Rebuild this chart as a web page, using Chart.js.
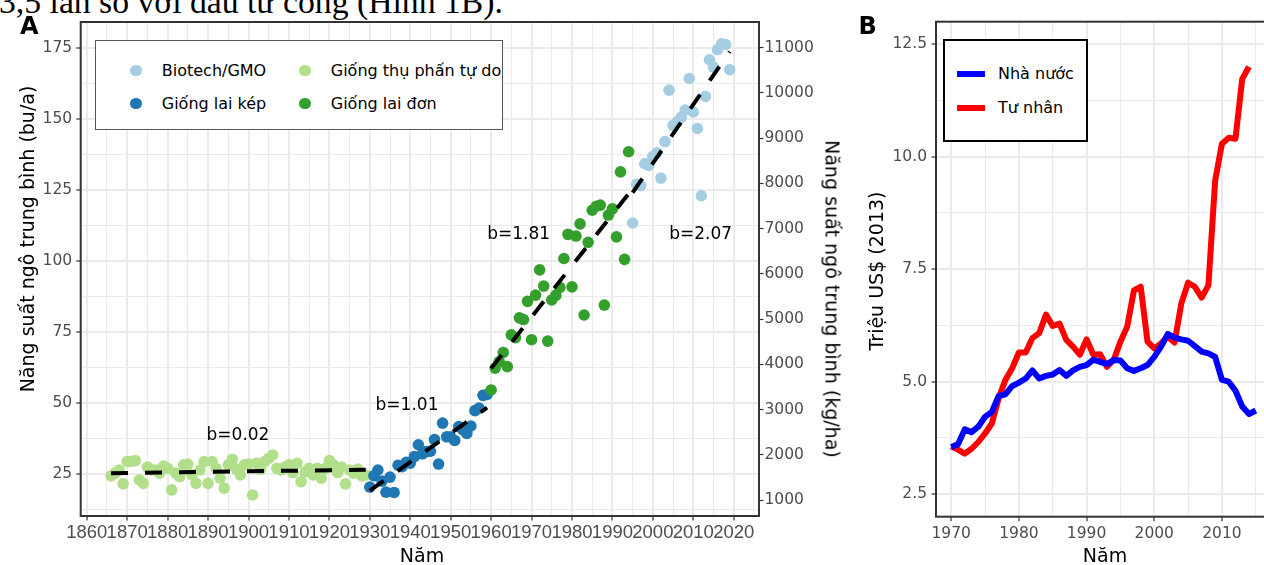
<!DOCTYPE html>
<html lang="vi">
<head>
<meta charset="utf-8">
<title>Năng suất ngô và đầu tư nghiên cứu</title>
<script src="https://cdn.jsdelivr.net/npm/chart.js@4.4.1/dist/chart.umd.min.js"></script>
<style>
  html, body { margin:0; padding:0; width:1264px; height:565px; overflow:hidden; background:#fff; }
  body { position:relative; font-family:'DejaVu Sans', sans-serif; color:#000; }
  canvas { position:absolute; top:0; }
  #chartA { left:0; }
  #chartB { left:850px; }
  .txt { position:absolute; white-space:nowrap; line-height:1; }
  .header { left:-1px; top:-15.5px; font-family:'Liberation Serif','Times New Roman',serif; font-size:33.7px; }
  .tag { font-weight:bold; font-size:24px; }
  .axt { font-size:19px; transform:translate(-50%,-50%); }
  .rotl { transform:translate(-50%,-50%) rotate(-90deg); }
  .rotr { transform:translate(-50%,-50%) rotate(90deg); }
  .legA { position:absolute; left:95px; top:40px; width:408px; height:90px; box-sizing:border-box; border:1px solid #555; background:#fff; }
  .legB { position:absolute; left:943px; top:39px; width:145px; height:103px; box-sizing:border-box; border:2px solid #000; background:#fff; }
  .item { position:absolute; white-space:nowrap; font-size:16px; line-height:1; display:flex; align-items:center; height:16px; }
  .dot { display:inline-block; width:11.5px; height:11.5px; border-radius:50%; margin-right:20px; }
  .sw { display:inline-block; width:28px; height:6px; margin-right:13px; }
</style>
</head>
<body>
<div class="txt header">3,5 lần so với đầu tư công (Hình 1B).</div>

<canvas id="chartA" width="850" height="565"></canvas>
<canvas id="chartB" width="440" height="565"></canvas>

<div class="txt tag" style="left:20px; top:13.6px;">A</div>
<div class="txt tag" style="left:858.5px; top:14.2px;">B</div>

<div class="txt axt rotl" style="left:26.7px; top:239px;">Năng suất ngô trung bình (bu/a)</div>
<div class="txt axt rotr" style="left:832px; top:299px;">Năng suất ngô trung bình (kg/ha)</div>
<div class="txt axt" style="left:422px; top:555px;">Năm</div>
<div class="txt axt rotl" style="left:876px; top:271px;">Triệu US$ (2013)</div>
<div class="txt axt" style="left:1105px; top:555.4px;">Năm</div>

<div class="legA" id="legendA"></div>
<div class="legB" id="legendB"></div>

<script>
// ---------------- Panel A data ----------------
const yearsOP = [1866,1867,1868,1869,1870,1871,1872,1873,1874,1875,1876,1877,1878,1879,1880,1881,1882,1883,1884,1885,1886,1887,1888,1889,1890,1891,1892,1893,1894,1895,1896,1897,1898,1899,1900,1901,1902,1903,1904,1905,1906,1907,1908,1909,1910,1911,1912,1913,1914,1915,1916,1917,1918,1919,1920,1921,1922,1923,1924,1925,1926,1927,1928,1929];
const yieldOP = [24.4,25.4,26.5,21.6,29.5,29.5,29.8,23.0,21.8,27.5,26.5,26.5,25.4,27.9,27.1,19.5,25.4,24.2,28.3,28.6,24.8,21.8,26.5,29.5,21.8,29.5,27.0,23.6,20.1,28.3,30.3,26.8,24.8,28.3,28.6,17.7,28.9,26.8,29.5,30.6,31.8,27.1,26.5,27.5,28.3,25.6,28.9,22.4,25.9,27.1,24.8,27.1,23.6,27.1,29.8,28.3,25.6,27.5,21.6,26.5,25.4,26.8,24.4,24.8];

const yearsDC = [1930,1931,1932,1933,1934,1935,1936,1937,1938,1939,1940,1941,1942,1943,1944,1945,1946,1947,1948,1949,1950,1951,1952,1953,1954,1955,1956,1957,1958,1959];
const yieldDC = [20.5,24.5,26.5,22.6,18.7,24.0,18.6,28.2,27.7,29.2,28.9,31.2,35.4,32.2,33.0,33.1,37.2,28.6,43.0,38.2,38.2,36.9,41.8,40.7,39.4,42.0,47.4,48.3,52.8,53.1];

const yearsSC = [1960,1961,1962,1963,1964,1965,1966,1967,1968,1969,1970,1971,1972,1973,1974,1975,1976,1977,1978,1979,1980,1981,1982,1983,1984,1985,1986,1987,1988,1989,1990,1991,1992,1993,1994];
const yieldSC = [54.7,62.4,64.7,67.9,62.9,74.1,73.1,80.1,79.5,85.9,72.4,88.1,97.0,91.3,71.9,86.4,88.0,90.8,101.0,109.5,91.0,108.9,113.2,81.1,106.7,118.0,119.4,119.8,84.6,116.3,118.5,108.6,131.5,100.7,138.6];

const yearsGMO = [1995,1996,1997,1998,1999,2000,2001,2002,2003,2004,2005,2006,2007,2008,2009,2010,2011,2012,2013,2014,2015,2016,2017,2018,2019];
const yieldGMO = [113.5,127.1,126.7,134.4,133.8,136.9,138.2,129.3,142.2,160.3,147.9,149.1,150.7,153.3,164.4,152.6,146.8,123.1,158.1,171.0,168.4,174.6,176.6,176.4,167.5];

const groupNames = ['Biotech/GMO', 'Giống lai kép', 'Giống thụ phấn tự do', 'Giống lai đơn'];
const groupColors = ['#a6cee3', '#1f78b4', '#b2df8a', '#33a02c'];

// fitted trend segments (start / end)
const trendYearsOP = [1866, 1929];  const trendOP = [25.4, 26.6];
const trendYearsDC = [1930, 1959];  const trendDC = [19.2, 48.5];
const trendYearsSC = [1960, 1994];  const trendSC = [62.3, 123.8];
const trendYearsGMO = [1995, 2019]; const trendGMO = [124.2, 173.9];

const slopeLabels = ['b=0.02', 'b=1.01', 'b=1.81', 'b=2.07'];
const slopeLabelYears = [1897.4, 1939.2, 1966.8, 2011.8];
const slopeLabelYields = [38.7, 49.2, 109.4, 109.3];

const yearTicksA = [1860,1870,1880,1890,1900,1910,1920,1930,1940,1950,1960,1970,1980,1990,2000,2010,2020];
const yearTickLabelsA = ['1860','1870','1880','1890','1900','1910','1920','1930','1940','1950','1960','1970','1980','1990','2000','2010','2020'];
const yearMinorA = [1865,1875,1885,1895,1905,1915,1925,1935,1945,1955,1965,1975,1985,1995,2005,2015,2025];
const yieldTicks = [25,50,75,100,125,150,175];
const yieldTickLabels = ['25','50','75','100','125','150','175'];
const yieldMinor = [12.5,37.5,62.5,87.5,112.5,137.5,162.5];
const kgTicks = [1000,2000,3000,4000,5000,6000,7000,8000,9000,10000,11000];
const kgTickLabels = ['1000','2000','3000','4000','5000','6000','7000','8000','9000','10000','11000'];
const BU_TO_KG = 62.77;

// ---------------- Panel B data ----------------
const yearsB = [1970,1971,1972,1973,1974,1975,1976,1977,1978,1979,1980,1981,1982,1983,1984,1985,1986,1987,1988,1989,1990,1991,1992,1993,1994,1995,1996,1997,1998,1999,2000,2001,2002,2003,2004,2005,2006,2007,2008,2009,2010,2011,2012,2013,2014,2015];
const publicB = [3.55,3.61,3.94,3.88,4.00,4.22,4.33,4.68,4.72,4.90,4.98,5.07,5.25,5.07,5.13,5.16,5.26,5.13,5.25,5.33,5.37,5.49,5.44,5.39,5.48,5.47,5.30,5.24,5.30,5.37,5.55,5.78,6.06,5.98,5.94,5.91,5.79,5.67,5.63,5.55,5.04,5.00,4.80,4.45,4.28,4.36];
const privateB = [3.56,3.49,3.40,3.51,3.66,3.85,4.07,4.63,5.04,5.30,5.65,5.65,5.97,6.08,6.49,6.24,6.29,5.93,5.78,5.60,5.94,5.60,5.61,5.33,5.48,5.89,6.22,7.03,7.11,5.89,5.74,5.85,6.00,5.87,6.74,7.20,7.11,6.87,7.14,9.47,10.29,10.42,10.40,11.73,12.00];
const seriesNamesB = ['Nhà nước', 'Tư nhân'];
const seriesColorsB = ['#0000ff', '#ff0000'];

const yearTicksB = [1970,1980,1990,2000,2010];
const yearTickLabelsB = ['1970','1980','1990','2000','2010'];
const yearMinorB = [1975,1985,1995,2005,2015];
const usdTicks = [2.5,5,7.5,10,12.5];
const usdTickLabels = ['2.5','5.0','7.5','10.0','12.5'];
const usdMinor = [3.75,6.25,8.75,11.25];

// ---------------- helpers ----------------
Chart.defaults.font.family = "'DejaVu Sans', sans-serif";
const TICK_COLOR = '#4d4d4d';
const GRID_COLOR = '#ebebeb';

const pts = (xs, ys) => xs.map((x, i) => ({x: x, y: ys[i]}));
function setTicks(major, minor) {
  return (scale) => {
    const t = major.map(v => ({value: v, major: true})).concat(minor.map(v => ({value: v, major: false})));
    t.sort((a, b) => a.value - b.value);
    scale.ticks = t;
  };
}
function labelFrom(values, labels) {
  return (v) => { const i = values.indexOf(v); return i >= 0 ? labels[i] : ''; };
}
const gridStyle = {
  color: GRID_COLOR,
  lineWidth: (c) => (c.tick && c.tick.major ? 2 : 1),
  tickLength: 4.5,
  tickWidth: 1.2,
  tickColor: (c) => (c.tick && c.tick.major ? '#333333' : 'rgba(0,0,0,0)')
};

const panelBorder = {
  id: 'panelBorder',
  afterDatasetsDraw(chart) {
    const {ctx, chartArea: a} = chart;
    ctx.save();
    ctx.strokeStyle = '#333333';
    ctx.lineWidth = 2;
    ctx.strokeRect(a.left, a.top, a.right - a.left, a.bottom - a.top);
    ctx.restore();
  }
};

const slopeText = {
  id: 'slopeText',
  afterDatasetsDraw(chart) {
    const {ctx, scales} = chart;
    ctx.save();
    ctx.font = "17px 'DejaVu Sans', sans-serif";
    ctx.fillStyle = '#000';
    ctx.textAlign = 'center';
    ctx.textBaseline = 'middle';
    slopeLabels.forEach((t, i) => {
      ctx.fillText(t, scales.x.getPixelForValue(slopeLabelYears[i]), scales.y.getPixelForValue(slopeLabelYields[i]));
    });
    ctx.restore();
  }
};

// ---------------- Chart A ----------------
const yMinA = 10.3, yMaxA = 184.3;
const pointDs = (label, color, xs, ys, order) => ({
  type: 'scatter', label: label, data: pts(xs, ys),
  backgroundColor: color, borderColor: color, borderWidth: 0,
  pointRadius: 5.8, pointHoverRadius: 5.8, order: order
});
const trendDs = (xs, ys) => ({
  type: 'line', label: '_trend', data: pts(xs, ys),
  borderColor: '#000', borderWidth: 4, borderDash: [17, 17], borderCapStyle: 'butt',
  pointRadius: 0, fill: false, tension: 0, order: 0
});

const chartA = new Chart(document.getElementById('chartA'), {
  type: 'scatter',
  data: {
    datasets: [
      pointDs(groupNames[0], groupColors[0], yearsGMO, yieldGMO, 1),
      pointDs(groupNames[1], groupColors[1], yearsDC, yieldDC, 3),
      pointDs(groupNames[2], groupColors[2], yearsOP, yieldOP, 4),
      pointDs(groupNames[3], groupColors[3], yearsSC, yieldSC, 2),
      trendDs(trendYearsOP, trendOP),
      trendDs(trendYearsDC, trendDC),
      trendDs(trendYearsSC, trendSC),
      trendDs(trendYearsGMO, trendGMO)
    ]
  },
  options: {
    responsive: false, animation: false, events: [],
    layout: {padding: {top: 22, left: 0, right: 0, bottom: 0}},
    plugins: {legend: {display: false}, tooltip: {enabled: false}},
    scales: {
      x: {
        type: 'linear', min: 1858.5, max: 2026.25,
        afterBuildTicks: setTicks(yearTicksA, yearMinorA),
        afterFit: (s) => { s.height = 49; },
        ticks: {autoSkip: false, maxRotation: 0, minRotation: 0, padding: 1.5, color: TICK_COLOR,
                font: {size: 18.5, family: "'Liberation Sans Narrow','Liberation Sans',sans-serif"},
                callback: labelFrom(yearTicksA, yearTickLabelsA)},
        grid: gridStyle,
        border: {display: false}
      },
      y: {
        type: 'linear', position: 'left', min: yMinA, max: yMaxA,
        afterBuildTicks: setTicks(yieldTicks, yieldMinor),
        afterFit: (s) => { s.width = 80.7; },
        ticks: {autoSkip: false, padding: 4, color: TICK_COLOR, font: {size: 15.5},
                callback: labelFrom(yieldTicks, yieldTickLabels)},
        grid: gridStyle,
        border: {display: false}
      },
      yKg: {
        type: 'linear', position: 'right', min: yMinA * BU_TO_KG, max: yMaxA * BU_TO_KG,
        afterBuildTicks: setTicks(kgTicks, []),
        afterFit: (s) => { s.width = 91; },
        ticks: {autoSkip: false, padding: 1, color: TICK_COLOR, font: {size: 15.5},
                callback: labelFrom(kgTicks, kgTickLabels)},
        grid: {drawOnChartArea: false, tickLength: 4.5, tickWidth: 1.2, tickColor: '#333333'},
        border: {display: false}
      }
    }
  },
  plugins: [slopeText, panelBorder]
});

// ---------------- Chart B ----------------
const lineDs = (label, color, xs, ys, order) => ({
  label: label, data: pts(xs.slice(0, ys.length), ys),
  borderColor: color, backgroundColor: color, borderWidth: 6,
  borderJoinStyle: 'round', borderCapStyle: 'butt',
  pointRadius: 0, fill: false, tension: 0, order: order
});

const chartB = new Chart(document.getElementById('chartB'), {
  type: 'line',
  data: {
    datasets: [
      lineDs(seriesNamesB[0], seriesColorsB[0], yearsB, publicB, 0),
      lineDs(seriesNamesB[1], seriesColorsB[1], yearsB, privateB, 1)
    ]
  },
  options: {
    responsive: false, animation: false, events: [],
    layout: {padding: {top: 21.7, left: 0, right: 19, bottom: 0}},
    plugins: {legend: {display: false}, tooltip: {enabled: false}},
    scales: {
      x: {
        type: 'linear', min: 1967.75, max: 2017.25,
        afterBuildTicks: setTicks(yearTicksB, yearMinorB),
        afterFit: (s) => { s.height = 48.3; },
        ticks: {autoSkip: false, maxRotation: 0, minRotation: 0, padding: 3, color: TICK_COLOR,
                font: {size: 15.5}, callback: labelFrom(yearTicksB, yearTickLabelsB)},
        grid: gridStyle,
        border: {display: false}
      },
      y: {
        type: 'linear', min: 2.0, max: 13.0,
        afterBuildTicks: setTicks(usdTicks, usdMinor),
        afterFit: (s) => { s.width = 86; },
        ticks: {autoSkip: false, padding: 4.5, color: TICK_COLOR, font: {size: 15.5},
                callback: labelFrom(usdTicks, usdTickLabels)},
        grid: gridStyle,
        border: {display: false}
      }
    }
  },
  plugins: [panelBorder]
});

// ---------------- HTML legends generated from the charts ----------------
(function buildLegendA() {
  const box = document.getElementById('legendA');
  const items = chartA.options.plugins.legend.labels.generateLabels(chartA)
    .filter(it => chartA.data.datasets[it.datasetIndex].type === 'scatter')
    .sort((a, b) => a.datasetIndex - b.datasetIndex);
  items.forEach((it, i) => {
    const col = Math.floor(i / 2), row = i % 2;
    const d = document.createElement('div');
    d.className = 'item';
    d.style.left = (34.25 + col * 169) + 'px';
    d.style.top = (29.5 + row * 33 - 8) + 'px';
    const dot = document.createElement('span');
    dot.className = 'dot';
    dot.style.background = it.fillStyle;
    d.appendChild(dot);
    d.appendChild(document.createTextNode(it.text));
    box.appendChild(d);
  });
})();

(function buildLegendB() {
  const box = document.getElementById('legendB');
  const items = chartB.options.plugins.legend.labels.generateLabels(chartB)
    .sort((a, b) => a.datasetIndex - b.datasetIndex);
  items.forEach((it, i) => {
    const d = document.createElement('div');
    d.className = 'item';
    d.style.left = '12px';
    d.style.top = (33 + i * 34.3 - 8) + 'px';
    const sw = document.createElement('span');
    sw.className = 'sw';
    sw.style.background = it.strokeStyle;
    d.appendChild(sw);
    d.appendChild(document.createTextNode(it.text));
    box.appendChild(d);
  });
})();
</script>
</body>
</html>
